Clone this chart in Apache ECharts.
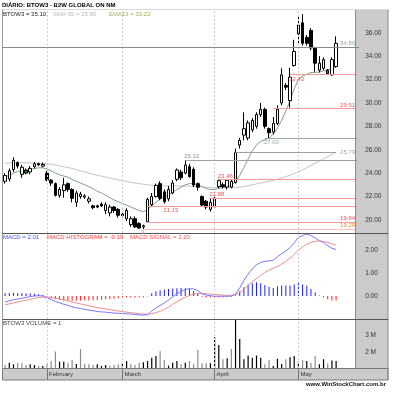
<!DOCTYPE html>
<html><head><meta charset="utf-8">
<script src="https://cdn.jsdelivr.net/npm/echarts@6/dist/echarts.min.js"></script>
<style>html,body{margin:0;padding:0;background:#fff}#c{width:396px;height:400px}</style>
</head><body><div id="c"></div>
<script>
// ---- data ----
const dates = [
'2009-01-19','2009-01-20','2009-01-21','2009-01-22','2009-01-23','2009-01-26','2009-01-27','2009-01-28','2009-01-29','2009-01-30',
'2009-02-02','2009-02-03','2009-02-04','2009-02-05','2009-02-06','2009-02-09','2009-02-10','2009-02-11','2009-02-12','2009-02-13',
'2009-02-16','2009-02-17','2009-02-18','2009-02-19','2009-02-20','2009-02-25','2009-02-26','2009-02-27',
'2009-03-02','2009-03-03','2009-03-04','2009-03-05','2009-03-06','2009-03-09','2009-03-10','2009-03-11','2009-03-12','2009-03-13',
'2009-03-16','2009-03-17','2009-03-18','2009-03-19','2009-03-20','2009-03-23','2009-03-24','2009-03-25','2009-03-26','2009-03-27',
'2009-03-30','2009-03-31',
'2009-04-01','2009-04-02','2009-04-03','2009-04-06','2009-04-07','2009-04-08','2009-04-09','2009-04-13','2009-04-14','2009-04-15',
'2009-04-16','2009-04-17','2009-04-20','2009-04-22','2009-04-23','2009-04-24','2009-04-27','2009-04-28','2009-04-29','2009-04-30',
'2009-05-04','2009-05-05','2009-05-06','2009-05-07','2009-05-08','2009-05-11','2009-05-12','2009-05-13','2009-05-14','2009-05-15'];
const opens = [23.3,23.5,24.3,24.9,23.9,24.0,24.1,24.55,24.8,24.6,
 24.0,23.4,23.1,22.1,22.5,23.1,22.6,21.5,22.0,21.95,
 21.6,21.2,21.2,21.35,20.8,20.6,21.1,20.9,20.35,20.1,
 19.6,20.1,19.7,19.4,19.84,21.3,22.0,23.1,22.4,21.8,
 22.3,23.47,24.1,24.0,24.55,24.33,23.1,22.0,21.6,20.9,
 21.1,22.85,23.0,22.8,22.8,23.2,26.4,27.25,27.0,27.7,
 28.0,29.0,29.45,27.8,27.5,28.25,30.0,31.5,30.2,33.2,
 35.9,36.85,35.6,36.2,34.67,32.8,32.96,32.5,32.4,33.1];
const closes = [23.8,24.2,25.1,24.6,24.5,24.25,24.4,24.8,24.7,24.75,
 23.4,23.15,22.1,22.6,23.0,22.6,21.85,22.3,22.2,22.05,
 21.8,21.05,21.1,21.2,21.3,21.1,20.8,20.4,20.5,20.8,
 20.1,19.4,19.3,19.5,21.76,22.0,22.95,21.85,21.55,22.6,
 23.15,24.26,23.6,24.7,23.7,22.98,22.8,21.27,21.1,21.5,
 21.85,23.35,22.85,23.4,23.3,25.75,26.8,27.8,28.3,28.5,
 29.0,29.45,28.0,27.45,28.25,29.45,32.4,31.35,32.2,34.4,
 36.66,35.1,35.1,34.7,33.4,33.4,33.7,32.8,33.7,35.1];
const lows = [23.1,23.3,24.1,24.4,23.6,23.9,23.9,24.4,24.6,24.5,
 23.3,22.9,22.0,21.9,21.9,22.4,21.5,21.1,21.8,21.8,
 21.4,20.9,21.0,21.1,20.5,20.3,20.6,20.2,20.2,19.9,
 19.4,19.3,19.25,19.2,19.84,21.19,21.9,21.7,21.4,21.6,
 22.2,23.3,23.4,23.9,23.6,22.8,22.5,21.1,20.9,20.7,
 21.0,22.7,22.7,22.6,22.7,23.1,26.1,26.8,26.8,27.5,
 27.8,28.8,27.8,27.0,27.3,28.1,29.8,31.1,29.6,33.1,
 35.1,34.9,34.9,34.5,32.67,32.6,32.8,32.43,32.3,33.0];
const highs = [24.0,24.4,25.35,25.0,24.7,24.4,24.6,24.95,24.9,24.9,
 24.2,23.5,23.2,22.8,23.6,23.2,22.7,22.5,22.4,22.2,
 22.0,21.3,21.3,21.5,21.5,21.3,21.2,21.0,20.7,21.0,
 20.3,20.3,19.8,19.6,21.9,22.3,23.1,23.3,22.6,22.9,
 23.4,24.4,24.3,25.12,24.8,24.5,23.2,22.1,21.7,21.88,
 22.0,23.46,23.2,23.5,23.5,26.1,27.0,29.2,28.5,28.7,
 29.2,30.0,29.6,27.9,28.8,29.8,32.96,31.7,33.0,35.4,
 37.37,37.6,35.8,36.4,34.8,34.0,33.9,32.9,33.9,35.7];
const greenCandles = [5, 77];
const ema13 = [23.7,23.8,24.0,24.15,24.2,24.25,24.3,24.4,24.45,24.45,
 24.35,24.2,24.0,23.85,23.75,23.65,23.45,23.3,23.15,23.0,
 22.85,22.65,22.45,22.3,22.1,21.9,21.7,21.55,21.4,21.25,
 21.1,20.95,20.8,20.7,20.9,21.2,21.5,21.75,21.95,22.15,
 22.35,22.6,22.8,23.0,23.1,23.1,23.0,22.85,22.7,22.6,
 22.6,22.7,22.75,22.85,22.9,23.3,23.8,24.5,25.2,25.9,
 26.4,26.7,26.85,27.0,27.35,27.85,28.5,29.3,30.2,31.2,
 32.0,32.3,32.45,32.6,32.6,32.65,32.75,32.8,32.95,33.22];
const sma65 = [24.85,24.86,24.87,24.88,24.88,24.88,24.87,24.86,24.85,24.83,
 24.8,24.75,24.7,24.62,24.55,24.47,24.4,24.3,24.2,24.1,
 24.0,23.9,23.82,23.74,23.66,23.58,23.5,23.42,23.35,23.28,
 23.22,23.16,23.1,23.05,23.0,22.97,22.95,22.93,22.92,22.91,
 22.9,22.9,22.9,22.9,22.88,22.86,22.84,22.82,22.8,22.78,
 22.76,22.75,22.74,22.74,22.74,22.76,22.8,22.85,22.92,23.0,
 23.08,23.15,23.22,23.3,23.38,23.47,23.58,23.7,23.82,23.95,
 24.1,24.28,24.47,24.66,24.85,25.04,25.22,25.4,25.6,25.79];
const macd = [-0.26,-0.21,-0.16,-0.13,-0.1,-0.06,-0.03,0.0,0.01,0.0,
 -0.08,-0.15,-0.23,-0.3,-0.36,-0.41,-0.47,-0.51,-0.54,-0.58,
 -0.61,-0.64,-0.67,-0.69,-0.7,-0.72,-0.74,-0.75,-0.76,-0.77,
 -0.78,-0.8,-0.82,-0.83,-0.81,-0.65,-0.52,-0.41,-0.3,-0.18,
 -0.04,0.09,0.2,0.28,0.32,0.3,0.23,0.09,0.04,0.01,
 -0.01,-0.01,-0.01,-0.01,0.0,0.08,0.35,0.68,0.95,1.17,
 1.35,1.45,1.5,1.52,1.55,1.7,1.83,1.95,2.09,2.3,
 2.54,2.62,2.68,2.62,2.52,2.4,2.31,2.18,2.06,2.01];
const macdSignal = [-0.38,-0.34,-0.3,-0.26,-0.22,-0.18,-0.14,-0.1,-0.07,-0.05,
 -0.05,-0.07,-0.1,-0.13,-0.17,-0.21,-0.26,-0.3,-0.34,-0.38,
 -0.42,-0.46,-0.5,-0.53,-0.56,-0.59,-0.62,-0.65,-0.68,-0.7,
 -0.72,-0.74,-0.76,-0.78,-0.79,-0.77,-0.72,-0.66,-0.58,-0.48,
 -0.36,-0.25,-0.15,-0.06,0.02,0.08,0.11,0.12,0.1,0.08,
 0.06,0.05,0.04,0.03,0.03,0.05,0.15,0.3,0.45,0.62,
 0.75,0.9,1.02,1.12,1.2,1.28,1.38,1.5,1.64,1.8,
 1.98,2.12,2.24,2.32,2.37,2.38,2.36,2.32,2.26,2.2];
const macdHist = [0.12,0.13,0.14,0.13,0.12,0.12,0.11,0.1,0.08,0.05,
 -0.03,-0.08,-0.13,-0.17,-0.19,-0.2,-0.21,-0.21,-0.2,-0.2,
 -0.19,-0.18,-0.17,-0.16,-0.14,-0.13,-0.12,-0.1,-0.08,-0.07,
 -0.06,-0.06,-0.06,-0.05,-0.02,0.12,0.2,0.25,0.28,0.3,
 0.32,0.34,0.35,0.34,0.3,0.22,0.12,-0.03,-0.06,-0.07,
 -0.07,-0.06,-0.05,-0.04,-0.03,0.03,0.2,0.38,0.5,0.55,
 0.6,0.55,0.48,0.4,0.35,0.42,0.45,0.45,0.45,0.5,
 0.56,0.5,0.44,0.3,0.15,0.02,-0.05,-0.14,-0.2,-0.19];
const volumeM = [1.27,1.4,1.31,1.4,1.37,1.27,1.31,1.27,1.21,1.21,
 1.33,1.5,2.04,1.46,1.46,1.4,1.56,1.33,2.19,1.33,
 1.31,1.27,1.31,1.21,1.27,1.23,1.27,1.31,1.37,1.5,
 1.31,1.27,1.4,1.42,1.5,1.69,1.79,2.08,1.56,1.23,
 1.4,1.5,1.33,1.4,1.5,1.33,2.13,1.37,1.37,1.37,
 2.88,2.42,1.6,1.65,2.19,4.0,2.77,1.6,1.81,1.69,
 1.81,1.69,1.31,1.56,1.21,1.62,1.33,1.6,1.71,1.79,
 1.46,1.56,1.5,1.4,1.79,1.31,1.6,1.37,1.52,1.5];
const priceTicks = [20,22,24,26,28,30,32,34,36];
const macdTicks = [0,1,2];
const volTicks = [2,3];
const monthStarts = [10,28,50,70];
const monthNames = ['February','March','April','May'];
// levels: value, start index (-1 = full), end index, label text, label place
const levels = [
 {v:34.80, s:-1, e:84, c:'#8a8a8a', t:'34.80', at:84, pos:'endTop', tc:'#7f8fa6'},
 {v:32.43, s:68, e:84, c:'#f49a9a', t:'32.43', at:68, pos:'startBottom', tc:'#ee2a2a'},
 {v:29.51, s:64, e:84, c:'#f49a9a', t:'29.51', at:84, pos:'endTop', tc:'#ee2a2a'},
 {v:27.00, s:62, e:84, c:'#a0a0a0', t:'27.00', at:62, pos:'startBottom', tc:'#7f8fa6'},
 {v:25.75, s:55, e:79, c:'#a0a0a0', t:'25.79', at:84, pos:'endMid', tc:'#7f8fa6'},
 {v:25.12, s:43, e:84, c:'#a0a0a0', t:'25.12', at:43, pos:'startTop', tc:'#707070'},
 {v:23.46, s:51, e:84, c:'#f49a9a', t:'23.46', at:51, pos:'startTop', tc:'#ee2a2a'},
 {v:21.88, s:49, e:84, c:'#f49a9a', t:'21.88', at:49, pos:'startTop', tc:'#ee2a2a'},
 {v:21.19, s:34, e:84, c:'#f49a9a', t:'21.19', at:38, pos:'startBottom', tc:'#ee2a2a'},
 {v:19.84, s:34, e:84, c:'#f49a9a', t:'19.84', at:84, pos:'endTop', tc:'#ee2a2a'},
 {v:19.20, s:33, e:84, c:'#f8c0c0', t:'19.20', at:84, pos:'endTop', tc:'#e07000'}
];

// ---- chart ----
const FF = '"Liberation Sans", Arial, sans-serif';
const cats = dates.concat(['', '', '', '', '']);
const gridL = 3, gridR = 396 - (3 + cats.length * 4.19);
const chart = echarts.init(document.getElementById('c'));

const candleData = dates.map((d, i) => {
  const it = {value: [opens[i], closes[i], lows[i], highs[i]]};
  if (greenCandles.includes(i)) it.itemStyle = {color: '#1f9a1f', color0: '#1f9a1f', borderColor: '#000', borderColor0: '#000'};
  return it;
});
const monthLineData = monthStarts.map(i => ({xAxis: i}));
const monthMark = {silent: true, symbol: ['none', 'none'], label: {show: false}, animation: false,
  lineStyle: {type: [2, 2], color: '#cfcfcf', width: 1}, data: monthLineData};

const levelLines = levels.map(l => l.s < 0
  ? {yAxis: l.v, lineStyle: {color: l.c, type: 'solid', width: 1}}
  : [{coord: [l.s, l.v], lineStyle: {color: l.c, type: 'solid', width: 1}}, {coord: [l.e, l.v]}]);

const posMap = {
  endTop: {position: [-2, -0.5], align: 'right', verticalAlign: 'bottom'},
  endMid: {position: [-2, 0], align: 'right', verticalAlign: 'middle'},
  startTop: {position: [-1, -0.5], align: 'left', verticalAlign: 'bottom'},
  startBottom: {position: [-1, 1.5], align: 'left', verticalAlign: 'top'}
};
const levelLabels = levels.map(l => ({
  value: [l.at, l.v],
  label: Object.assign({show: true, formatter: l.t, color: l.tc, fontSize: 6, fontFamily: FF}, posMap[l.pos])
}));
levelLabels.push({value: [33, 19.2], label: {show: true, formatter: '0', color: '#888', fontSize: 6, fontFamily: FF,
  position: [-1, 0], align: 'center', verticalAlign: 'top'}});

function xAx(gi, showLabels) {
  return {
    type: 'category', gridIndex: gi, data: cats, boundaryGap: true, z: 10,
    axisLine: {show: false},
    axisTick: showLabels ? {show: true, alignWithLabel: true, length: 12,
      interval: (i) => monthStarts.includes(i), lineStyle: {color: '#777'}} : {show: false},
    axisLabel: showLabels ? {show: true, interval: (i) => monthStarts.includes(i),
      formatter: (v, i) => monthNames[monthStarts.indexOf(i)] || '',
      align: 'left', margin: 3, padding: [0, 0, 0, 2], fontSize: 6, color: '#333', fontFamily: FF} : {show: false},
    splitLine: {show: false}
  };
}
function yAx(gi, min, max, ticks, fmt) {
  return {
    type: 'value', gridIndex: gi, position: 'right', min: min, max: max, z: 10,
    axisLine: {show: false}, axisTick: {show: false}, splitLine: {show: false},
    axisLabel: {show: true, customValues: ticks, formatter: fmt, color: '#333', fontSize: 6.5,
      fontFamily: FF, margin: 6, showMinLabel: true, showMaxLabel: true}
  };
}

const option = {
  animation: false,
  backgroundColor: '#fff',
  grid: [
    {left: gridL, right: gridR, top: 9, height: 224},
    {left: gridL, right: gridR, top: 233, height: 86},
    {left: gridL, right: gridR, top: 319, height: 49}
  ],
  xAxis: [xAx(0, false), xAx(1, false), xAx(2, true)],
  yAxis: [
    yAx(0, 18.88, 38.03, priceTicks, v => v.toFixed(2)),
    yAx(1, -0.996, 2.727, macdTicks, v => v.toFixed(2)),
    yAx(2, 1.092, 3.925, volTicks, v => Math.round(v) + ' M')
  ],
  series: [
    {type: 'line', name: 'SMA', xAxisIndex: 0, yAxisIndex: 0, data: sma65, symbol: 'none',
      lineStyle: {color: '#c4c4c4', width: 1}, z: 1,
      markLine: monthMark},
    {type: 'line', name: 'EMA13', xAxisIndex: 0, yAxisIndex: 0, data: ema13, symbol: 'none',
      lineStyle: {color: '#7fa27f', width: 1}, z: 1,
      markLine: {silent: true, symbol: ['none', 'none'], label: {show: false}, animation: false, data: levelLines}},
    {type: 'candlestick', xAxisIndex: 0, yAxisIndex: 0, data: candleData, barWidth: 3, z: 3,
      itemStyle: {color: '#fff', color0: '#000', borderColor: '#000', borderColor0: '#000', borderWidth: 1}},
    {type: 'scatter', xAxisIndex: 0, yAxisIndex: 0, symbolSize: 0, data: levelLabels, z: 12, zlevel: 1, silent: true,
      labelLayout: {hideOverlap: false}},
    {type: 'bar', xAxisIndex: 1, yAxisIndex: 1, barWidth: 1, z: 2,
      data: macdHist.map(v => ({value: v, itemStyle: {color: v >= 0 ? '#2020ff' : '#ff2020'}})),
      markLine: monthMark},
    {type: 'line', xAxisIndex: 1, yAxisIndex: 1, data: macdSignal, symbol: 'none',
      lineStyle: {color: '#f28c8c', width: 1}, z: 3},
    {type: 'line', xAxisIndex: 1, yAxisIndex: 1, data: macd, symbol: 'none',
      lineStyle: {color: '#7878ff', width: 1}, z: 4},
    {type: 'bar', xAxisIndex: 2, yAxisIndex: 2, barWidth: 1.2, z: 2,
      data: volumeM.map((v, i) => ({value: v, itemStyle: {color: (i > 0 && closes[i] >= closes[i - 1]) ? '#000' : '#8c8c8c'}})),
      markLine: monthMark}
  ],
  graphic: {elements: [
    {type: 'rect', z: 5, shape: {x: 355.5, y: 9, width: 32.5, height: 359}, style: {fill: '#cbcbcb', stroke: 'none'}},
    {type: 'rect', z: 5, shape: {x: 2.5, y: 368.5, width: 385.5, height: 11.5}, style: {fill: '#cbcbcb', stroke: '#7a7a7a', lineWidth: 1}},
    {type: 'line', z: 6, shape: {x1: 2.5, y1: 9, x2: 2.5, y2: 368}, style: {stroke: '#999', lineWidth: 1}},
    {type: 'line', z: 6, shape: {x1: 355.5, y1: 9, x2: 355.5, y2: 368}, style: {stroke: '#8a8a8a', lineWidth: 1}},
    {type: 'line', z: 6, shape: {x1: 388, y1: 9, x2: 388, y2: 380}, style: {stroke: '#8a8a8a', lineWidth: 1}},
    {type: 'line', z: 6, shape: {x1: 2.5, y1: 9.5, x2: 388, y2: 9.5}, style: {stroke: '#d8d8d8', lineWidth: 1}},
    {type: 'line', z: 6, shape: {x1: 2.5, y1: 233.5, x2: 388, y2: 233.5}, style: {stroke: '#555', lineWidth: 1}},
    {type: 'line', z: 6, shape: {x1: 2.5, y1: 319.5, x2: 388, y2: 319.5}, style: {stroke: '#555', lineWidth: 1}},
    {type: 'text', z: 20, style: {text: 'DIÁRIO: BTOW3 - B2W GLOBAL ON NM', x: 2, y: 5, fill: '#000',
      font: 'bold 6px ' + FF, textVerticalAlign: 'middle'}},
    {type: 'text', z: 20, style: {text: 'BTOW3 = 35.10', x: 3, y: 14, fill: '#222', font: '6px ' + FF, textVerticalAlign: 'middle'}},
    {type: 'text', z: 20, style: {text: 'SMA 65 = 25.80', x: 53, y: 14, fill: '#b8b8b8', font: '6px ' + FF, textVerticalAlign: 'middle'}},
    {type: 'text', z: 20, style: {text: 'EMA13 = 33.22', x: 109, y: 14, fill: '#98b44a', font: '6px ' + FF, textVerticalAlign: 'middle'}},
    {type: 'text', z: 20, style: {text: 'MACD = 2.01', x: 3, y: 237.5, fill: '#4b4bff', font: '6px ' + FF, textVerticalAlign: 'middle'}},
    {type: 'text', z: 20, style: {text: 'MACD HISTOGRAM = -0.19', x: 47, y: 237.5, fill: '#ff4040', font: '6px ' + FF, textVerticalAlign: 'middle'}},
    {type: 'text', z: 20, style: {text: 'MACD SIGNAL = 2.20', x: 130, y: 237.5, fill: '#ff4a4a', font: '6px ' + FF, textVerticalAlign: 'middle'}},
    {type: 'text', z: 20, style: {text: 'BTOW3 VOLUME = 1', x: 3, y: 323, fill: '#444', font: '6px ' + FF, textVerticalAlign: 'middle'}},
    {type: 'text', z: 20, style: {text: 'www.WinStockChart.com.br', x: 386, y: 384.5, fill: '#111',
      font: 'bold 6px ' + FF, textAlign: 'right', textVerticalAlign: 'middle'}}
  ]}
};
chart.setOption(option);
</script>
</body></html>
